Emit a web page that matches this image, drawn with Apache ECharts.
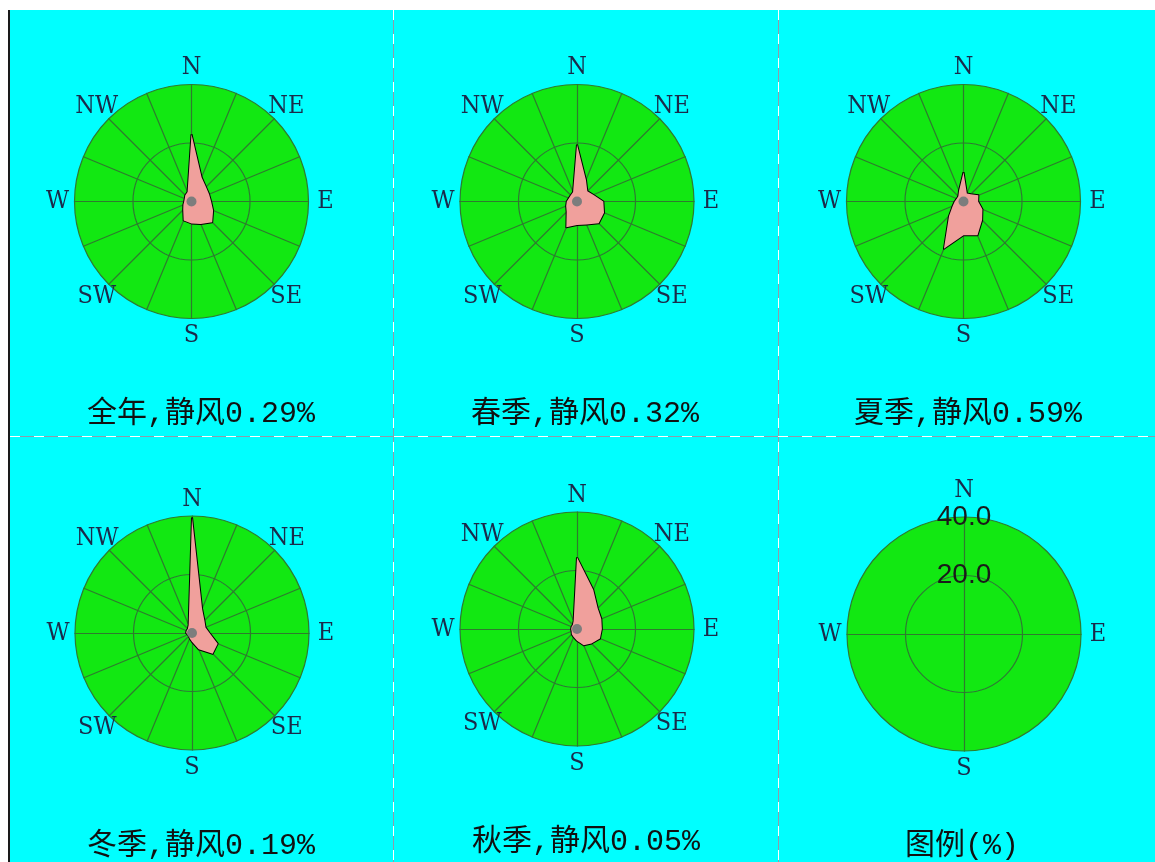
<!DOCTYPE html>
<html>
<head>
<meta charset="utf-8">
<script src="https://cdn.jsdelivr.net/npm/echarts@6/dist/echarts.min.js"></script>
<style>
  html, body { margin: 0; padding: 0; background: #ffffff; }
  #chart { width: 1155px; height: 862px; }
</style>
</head>
<body>
<div id="chart"></div>
<script>
// 16 compass directions, clockwise from north
const directions = ['N', 'NNE', 'NE', 'ENE', 'E', 'ESE', 'SE', 'SSE', 'S', 'SSW', 'SW', 'WSW', 'W', 'WNW', 'NW', 'NNW'];
// only the principal points get a name on the dial
const namedDirections = ['N', 'NE', 'E', 'SE', 'S', 'SW', 'W', 'NW'];

// wind direction frequency (%), one value per direction above
const annualFreq = [23, 9, 7, 6.5, 6.7, 8, 10, 8.3, 7.5, 7, 4, 3, 2.5, 2.5, 3, 3.5];
const springFreq = [19.5, 8, 5, 6, 9, 10, 10.5, 8.5, 8, 9.5, 5, 4, 3.5, 3, 3, 3.5];
const summerFreq = [10, 3, 3.5, 5.5, 5, 7, 9, 12.5, 11.5, 17.5, 7, 4, 3, 2.5, 2.5, 4];
const winterFreq = [39.5, 9, 6, 5, 6, 9.5, 10, 6, 3, 2, 1.5, 1.5, 2, 2, 2, 3];
const autumnFreq = [24.5, 14.5, 10, 9, 8.5, 8.5, 7, 6, 4, 3, 2.5, 2, 2, 2, 2, 3];

const panelTitles = ['全年,静风0.29%', '春季,静风0.32%', '夏季,静风0.59%', '冬季,静风0.19%', '秋季,静风0.05%', '图例(%)'];
// ring values of the scale (%)
const ringTicks = [20, 40];
const legendDirections = ['N', 'E', 'S', 'W'];

const roseSeries = [annualFreq, springFreq, summerFreq, winterFreq, autumnFreq];

// ---- layout ----
const RADIUS = 117;
const roseCenters = [[191.5, 201.5], [577, 201.5], [963.5, 201.5], [192, 633], [577, 629]];
const legendCenter = [964, 634];
const titleAnchors = [[201, 414], [585, 414], [968, 414], [201, 846], [586, 842], [962, 846]];

const GREEN = '#12e812';
const GRID = '#2f7a2f';
const DIAL_FONT = "'DejaVu Serif Condensed', 'Liberation Serif', serif";
const TITLE_FONT = "'Liberation Mono', 'Noto Sans CJK SC', monospace";
const scaleMax = Math.max.apply(null, ringTicks);

// radar lays indicators out counter-clockwise, so feed the compass in reverse to turn it clockwise
function ccw(list) {
  return list.map(function (_, k) { return list[(list.length - k) % list.length]; });
}

function dial(center, names) {
  return {
    center: center,
    radius: RADIUS,
    startAngle: 90,
    shape: 'circle',
    splitNumber: ringTicks.length,
    nameGap: 17,
    axisName: {
      color: '#1b2a4a', fontFamily: DIAL_FONT, fontSize: 25,
      align: 'center', verticalAlign: 'middle'
    },
    indicator: names.map(function (d) {
      return { name: namedDirections.indexOf(d) >= 0 ? d : '', min: 0, max: scaleMax };
    }),
    splitArea: { show: true, areaStyle: { color: [GREEN, GREEN], opacity: 1 } },
    splitLine: { lineStyle: { color: GRID, width: 1.2 } },
    axisLine: { lineStyle: { color: GRID, width: 1.2 } },
    axisTick: { show: false },
    axisLabel: { show: false }
  };
}

const radars = roseCenters.map(function (c) { return dial(c, ccw(directions)); });

// legend dial: four axes, ring values printed along north
const legendDial = dial(legendCenter, ccw(legendDirections));
legendDial.indicator[0].axisLabel = {
  show: true,
  margin: 0,
  align: 'center',
  verticalAlign: 'middle',
  color: '#1a1a1a',
  fontFamily: "'Liberation Sans', Arial, sans-serif",
  fontSize: 28,
  formatter: function (v) { return v === 0 ? '' : Number(v).toFixed(1); }
};
radars.push(legendDial);

const series = roseSeries.map(function (freq, i) {
  return {
    type: 'radar',
    radarIndex: i,
    symbol: 'none',
    silent: true,
    lineStyle: { color: '#000000', width: 2 },
    areaStyle: { color: '#f0a09c', opacity: 1 },
    data: [{ value: ccw(freq), name: panelTitles[i] }]
  };
});

// frame, separators, centre hubs and captions
const graphics = [];
// white margin and black rule on the left
graphics.push({ type: 'rect', shape: { x: 0, y: 0, width: 1155, height: 10 }, style: { fill: '#ffffff' }, z: 200 });
graphics.push({ type: 'rect', shape: { x: 0, y: 0, width: 8, height: 862 }, style: { fill: '#ffffff' }, z: 200 });
graphics.push({ type: 'rect', shape: { x: 8, y: 10, width: 2, height: 852 }, style: { fill: '#1a1a1a' }, z: 201 });

function separator(x1, y1, x2, y2) {
  graphics.push({ type: 'line', shape: { x1: x1, y1: y1, x2: x2, y2: y2 }, style: { stroke: '#8f9ba8', lineWidth: 1 }, z: 150 });
  graphics.push({ type: 'line', shape: { x1: x1, y1: y1, x2: x2, y2: y2 }, style: { stroke: '#ffffff', lineWidth: 1, lineDash: [10, 14] }, z: 151 });
}
separator(393.5, 10, 393.5, 862);
separator(778.5, 10, 778.5, 862);
separator(10, 436.5, 1155, 436.5);

roseCenters.forEach(function (c) {
  graphics.push({ type: 'circle', shape: { cx: c[0], cy: c[1], r: 5 }, style: { fill: '#7d7d7d' }, z: 120 });
});

panelTitles.forEach(function (t, i) {
  graphics.push({
    type: 'text', x: titleAnchors[i][0], y: titleAnchors[i][1], z: 130,
    style: { text: t, fill: '#111111', font: "30px " + TITLE_FONT, align: 'center', verticalAlign: 'middle' }
  });
});

const chart = echarts.init(document.getElementById('chart'), null, { renderer: 'canvas' });
chart.setOption({
  animation: false,
  backgroundColor: '#00ffff',
  radar: radars,
  series: series,
  graphic: graphics
});
</script>
</body>
</html>
